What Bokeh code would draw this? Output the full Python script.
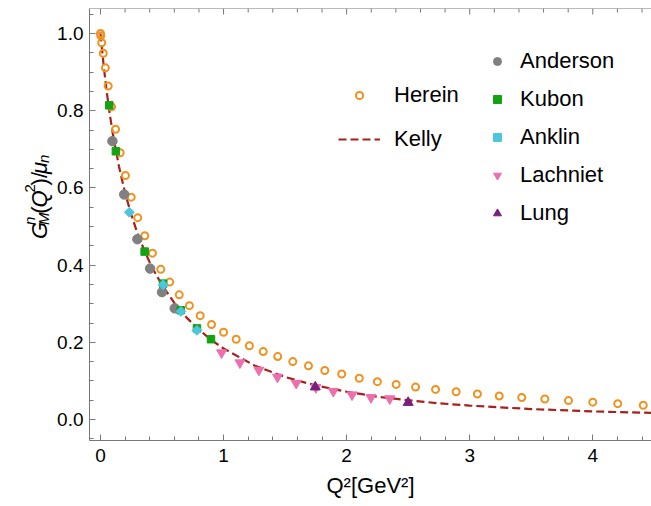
import math

from bokeh.plotting import figure
from bokeh.layouts import row
from bokeh.models import (Range1d, LinearAxis, SingleIntervalTicker, PrintfTickFormatter,
                          Legend, LegendItem, Span)
from bokeh.core.properties import value
from bokeh.embed import file_html
from bokeh.resources import INLINE

# ---- data: G_M^n(Q^2)/mu_n versus Q^2 [GeV^2] ----
herein_q = [0, 0.0025, 0.01, 0.0225, 0.04, 0.0625, 0.09, 0.1225, 0.16, 0.2025,
            0.25, 0.3025, 0.36, 0.4225, 0.49, 0.5625, 0.64, 0.7225, 0.81, 0.9025,
            1.0, 1.1025, 1.21, 1.3225, 1.44, 1.5625, 1.69, 1.8225, 1.96, 2.1025,
            2.25, 2.4025, 2.56, 2.7225, 2.89, 3.0625, 3.24, 3.4225, 3.61, 3.8025,
            4.0, 4.2025, 4.41]
herein_g = [1.0, 0.994, 0.976, 0.949, 0.911, 0.864, 0.810, 0.752, 0.691, 0.632,
            0.576, 0.523, 0.476, 0.431, 0.389, 0.356, 0.323, 0.295, 0.269, 0.246,
            0.226, 0.208, 0.191, 0.176, 0.163, 0.150, 0.139, 0.127, 0.118, 0.107,
            0.098, 0.091, 0.084, 0.078, 0.072, 0.066, 0.061, 0.057, 0.053, 0.049,
            0.045, 0.041, 0.037]

kelly_q = [0, 0.025, 0.05, 0.075, 0.1, 0.15, 0.2, 0.25, 0.3, 0.35, 0.4, 0.45, 0.5,
           0.6, 0.7, 0.8, 0.9, 1.0, 1.25, 1.5, 1.75, 2.0, 2.25, 2.5, 2.75, 3.0,
           3.5, 4.0, 4.5]
kelly_g = [1.0, 0.920, 0.851, 0.792, 0.741, 0.656, 0.587, 0.531, 0.483, 0.443, 0.407,
           0.376, 0.349, 0.302, 0.264, 0.233, 0.206, 0.184, 0.140, 0.110, 0.088,
           0.072, 0.059, 0.050, 0.042, 0.036, 0.027, 0.021, 0.017]

anderson_q = [0.097, 0.193, 0.300, 0.403, 0.500, 0.603]
anderson_g = [0.721, 0.583, 0.467, 0.391, 0.330, 0.288]

kubon_q = [0.071, 0.125, 0.359, 0.509, 0.652, 0.784, 0.898]
kubon_g = [0.814, 0.695, 0.435, 0.352, 0.283, 0.236, 0.208]

anklin_q = [0.235, 0.509, 0.654, 0.784]
anklin_g = [0.537, 0.349, 0.280, 0.231]

lachniet_q = [0.984, 1.133, 1.287, 1.438, 1.590, 1.750, 1.892, 2.044, 2.198, 2.350]
lachniet_g = [0.173, 0.147, 0.128, 0.110, 0.094, 0.083, 0.073, 0.064, 0.057, 0.054]

lung_q = [1.745, 2.500]
lung_g = [0.084, 0.044]

# tick positions of the top frame edge
top_major_ticks = [0, 1, 2, 3, 4]
top_minor_ticks = [0.2, 0.4, 0.6, 0.8, 1.2, 1.4, 1.6, 1.8, 2.2, 2.4, 2.6, 2.8,
                   3.2, 3.4, 3.6, 3.8, 4.2, 4.4]

FONT = "Liberation Sans"
FRAME_COLOR = "#777777"

# page 651 x 506: a narrow strip on the left for the vertical title, then the plot
W, H = 651, 506
YLAB_W = 54
MAIN_W = W - YLAB_W
BL, BR, BT, BB = 88 - YLAB_W, 0, 8, H - 440
x0, x1 = -0.0892, 4.477
y0, y1 = -0.0544, 1.0648
frame_h = H - BT - BB

p = figure(width=MAIN_W, height=H, output_backend="svg", toolbar_location=None,
           x_range=Range1d(x0, x1), y_range=Range1d(y0, y1),
           x_axis_location=None, y_axis_location=None,
           min_border_left=BL, min_border_right=BR, min_border_top=BT, min_border_bottom=BB)
p.outline_line_color = None
p.grid.visible = False
p.background_fill_color = "white"
p.border_fill_color = "white"


def style_axis(ax):
    ax.axis_line_color = FRAME_COLOR
    ax.axis_line_width = 1
    ax.major_tick_line_color = FRAME_COLOR
    ax.minor_tick_line_color = FRAME_COLOR
    ax.major_tick_in = 6
    ax.major_tick_out = 0
    ax.minor_tick_in = 4
    ax.minor_tick_out = 0
    ax.major_label_text_font = FONT
    ax.major_label_text_color = "black"
    ax.major_label_text_font_size = "19px"


xb = LinearAxis(ticker=SingleIntervalTicker(interval=1, num_minor_ticks=5))
style_axis(xb)
xb.major_label_standoff = 8
xb.axis_label = "Q²[GeV²]"
xb.axis_label_text_font = FONT
xb.axis_label_text_font_size = "22px"
xb.axis_label_text_font_style = "normal"
xb.axis_label_text_color = "black"
xb.axis_label_standoff = 8
p.add_layout(xb, "below")

yl = LinearAxis(ticker=SingleIntervalTicker(interval=0.2, num_minor_ticks=4),
                formatter=PrintfTickFormatter(format="%.1f"))
style_axis(yl)
yl.major_label_standoff = 6
p.add_layout(yl, "left")

# top edge of the frame with inward ticks
p.add_layout(Span(location=y1, dimension="width", line_color=FRAME_COLOR, line_width=1))
px_y = (y1 - y0) / frame_h
p.segment(x0=top_major_ticks, x1=top_major_ticks,
          y0=[y1] * len(top_major_ticks), y1=[y1 - 6 * px_y] * len(top_major_ticks),
          line_color=FRAME_COLOR, line_width=1)
p.segment(x0=top_minor_ticks, x1=top_minor_ticks,
          y0=[y1] * len(top_minor_ticks), y1=[y1 - 4 * px_y] * len(top_minor_ticks),
          line_color=FRAME_COLOR, line_width=1)

# ---- curves and points ----
kelly = p.line(kelly_q, kelly_g, line_color="#A8201A", line_width=2.2, line_dash="8 4")
herein = p.scatter(herein_q, herein_g, marker="circle", size=7, fill_color=None,
                   line_color="#F0921F", line_width=2)
anderson = p.scatter(anderson_q, anderson_g, marker="circle", size=9.5,
                     fill_color="#808080", line_color="#808080")
kubon = p.scatter(kubon_q, kubon_g, marker="square", size=7.5,
                  fill_color="#12A212", line_color="#12A212")
anklin = p.scatter(anklin_q, anklin_g, marker="square", angle=math.pi / 4, size=7,
                   fill_color="#4CC6DE", line_color="#4CC6DE")
lachniet = p.scatter(lachniet_q, lachniet_g, marker="inverted_triangle", size=10,
                     fill_color="#EE6FAE", line_color="#EE6FAE")
lung = p.scatter(lung_q, lung_g, marker="triangle", size=10,
                 fill_color="#7A1F7E", line_color="#7A1F7E")


def legend_box(items, loc, glyph_w, glyph_h, spacing, standoff):
    lg = Legend(items=items, location=loc, orientation="vertical",
                glyph_width=glyph_w, glyph_height=glyph_h, label_height=24,
                label_width=10, spacing=spacing, label_standoff=standoff,
                padding=0, margin=0, border_line_color=None,
                background_fill_alpha=0, label_text_font=FONT,
                label_text_font_size="22px", label_text_color="black")
    p.add_layout(lg, "center")


legend_box([LegendItem(label="Herein", renderers=[herein]),
            LegendItem(label="Kelly", renderers=[kelly])],
           (249, 288), 42, 18, 18, 14)
legend_box([LegendItem(label="Anderson", renderers=[anderson]),
            LegendItem(label="Kubon", renderers=[kubon]),
            LegendItem(label="Anklin", renderers=[anklin]),
            LegendItem(label="Lachniet", renderers=[lachniet]),
            LegendItem(label="Lung", renderers=[lung])],
           (398, 214), 20, 20, 12, 13)


# ---- vertical title, set piece by piece for the sub/superscripts ----
ylab = figure(width=YLAB_W, height=H, output_backend="svg", toolbar_location=None,
              x_range=Range1d(0, YLAB_W), y_range=Range1d(0, H),
              x_axis_location=None, y_axis_location=None,
              min_border=0, min_border_left=0, min_border_right=0,
              min_border_top=0, min_border_bottom=0)
ylab.outline_line_color = None
ylab.grid.visible = False
ylab.background_fill_color = "white"
ylab.border_fill_color = "white"


def piece(text, px, py, size, italic=False):
    # px, py are page pixels from the left edge and the top edge
    ylab.text(x=[px], y=[H - py], text=[text], angle=math.pi / 2,
              text_font=value(FONT), text_font_size=value(f"{size}px"),
              text_font_style="italic" if italic else "normal",
              text_color="black", text_align="left", text_baseline="alphabetic")


BIG, SMALL = 22, 15
bx = 39
# G^n_M(Q^2)/mu_n, reading bottom to top
piece("G", bx, 270, BIG, italic=True)
piece("n", bx - 10, 253.5, SMALL, italic=True)
piece("M", bx + 4, 253.5, SMALL, italic=True)
piece("(", bx, 240.4, BIG)
piece("Q", bx, 233.1, BIG, italic=True)
piece("2", bx - 10, 215.5, SMALL)
piece(")/", bx, 207.2, BIG)
piece("μ", bx, 193.8, BIG, italic=True)
piece("n", bx + 4, 181.1, SMALL, italic=True)

page = row(ylab, p, spacing=0)

open("out.html", "w").write(file_html(page, INLINE))
